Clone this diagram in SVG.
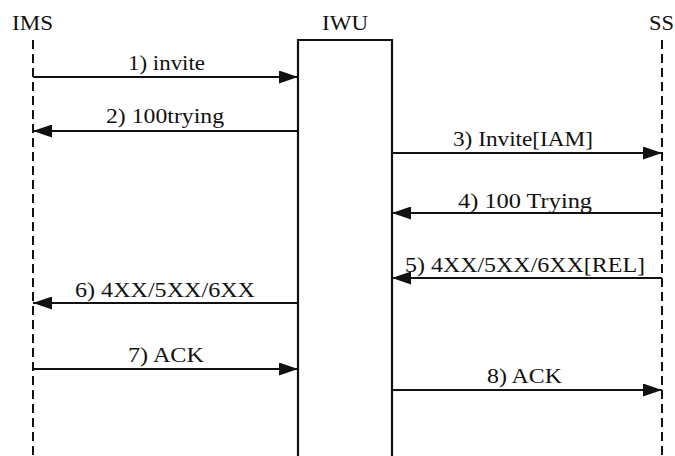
<svg xmlns="http://www.w3.org/2000/svg" width="675" height="456" viewBox="0 0 675 456">
<defs>
<marker id="ah" viewBox="0 0 19 13" refX="19" refY="6.5" markerWidth="19" markerHeight="13" markerUnits="userSpaceOnUse" orient="auto">
<path d="M0,0 L19,6.5 L0,13 Z" fill="#111"/>
</marker>
</defs>
<style>
text{font-family:"Liberation Serif","Times New Roman",serif;font-size:21px;fill:#111}
.life{stroke:#111;stroke-width:2;stroke-dasharray:9 5;fill:none}
.msg{stroke:#111;stroke-width:2.2;fill:none;marker-end:url(#ah)}
.box{stroke:#111;stroke-width:2.2;fill:#fff}
</style>
<rect width="675" height="456" fill="#fff"/>
<g id="IMS">
<text x="12" y="30" textLength="41" lengthAdjust="spacingAndGlyphs">IMS</text>
<line class="life" x1="33" y1="40" x2="33" y2="456"/>
</g>
<g id="IWU">
<text x="322" y="30" textLength="46" lengthAdjust="spacingAndGlyphs">IWU</text>
<path class="box" d="M298,460 L298,40 L392,40 L392,460"/>
</g>
<g id="SS">
<text x="649" y="30" textLength="25" lengthAdjust="spacingAndGlyphs">SS</text>
<line class="life" x1="662" y1="40" x2="662" y2="456"/>
</g>
<g id="connectors">
<line class="msg" x1="33" y1="77" x2="298" y2="77"/>
<text x="128" y="70" textLength="77" lengthAdjust="spacingAndGlyphs">1) invite</text>
<line class="msg" x1="298" y1="131" x2="33" y2="131"/>
<text x="106" y="123" textLength="118" lengthAdjust="spacingAndGlyphs">2) 100trying</text>
<line class="msg" x1="392" y1="153" x2="662" y2="153"/>
<text x="453" y="146" textLength="140" lengthAdjust="spacingAndGlyphs">3) Invite[IAM]</text>
<line class="msg" x1="662" y1="213" x2="392" y2="213"/>
<text x="458" y="208" textLength="134" lengthAdjust="spacingAndGlyphs">4) 100 Trying</text>
<line class="msg" x1="662" y1="278" x2="392" y2="278"/>
<text x="405" y="272" textLength="240" lengthAdjust="spacingAndGlyphs">5) 4XX/5XX/6XX[REL]</text>
<line class="msg" x1="298" y1="303" x2="33" y2="303"/>
<text x="75" y="297" textLength="180" lengthAdjust="spacingAndGlyphs">6) 4XX/5XX/6XX</text>
<line class="msg" x1="33" y1="369" x2="298" y2="369"/>
<text x="128" y="362" textLength="76" lengthAdjust="spacingAndGlyphs">7) ACK</text>
<line class="msg" x1="392" y1="390" x2="662" y2="390"/>
<text x="487" y="383" textLength="75" lengthAdjust="spacingAndGlyphs">8) ACK</text>
</g>
</svg>
